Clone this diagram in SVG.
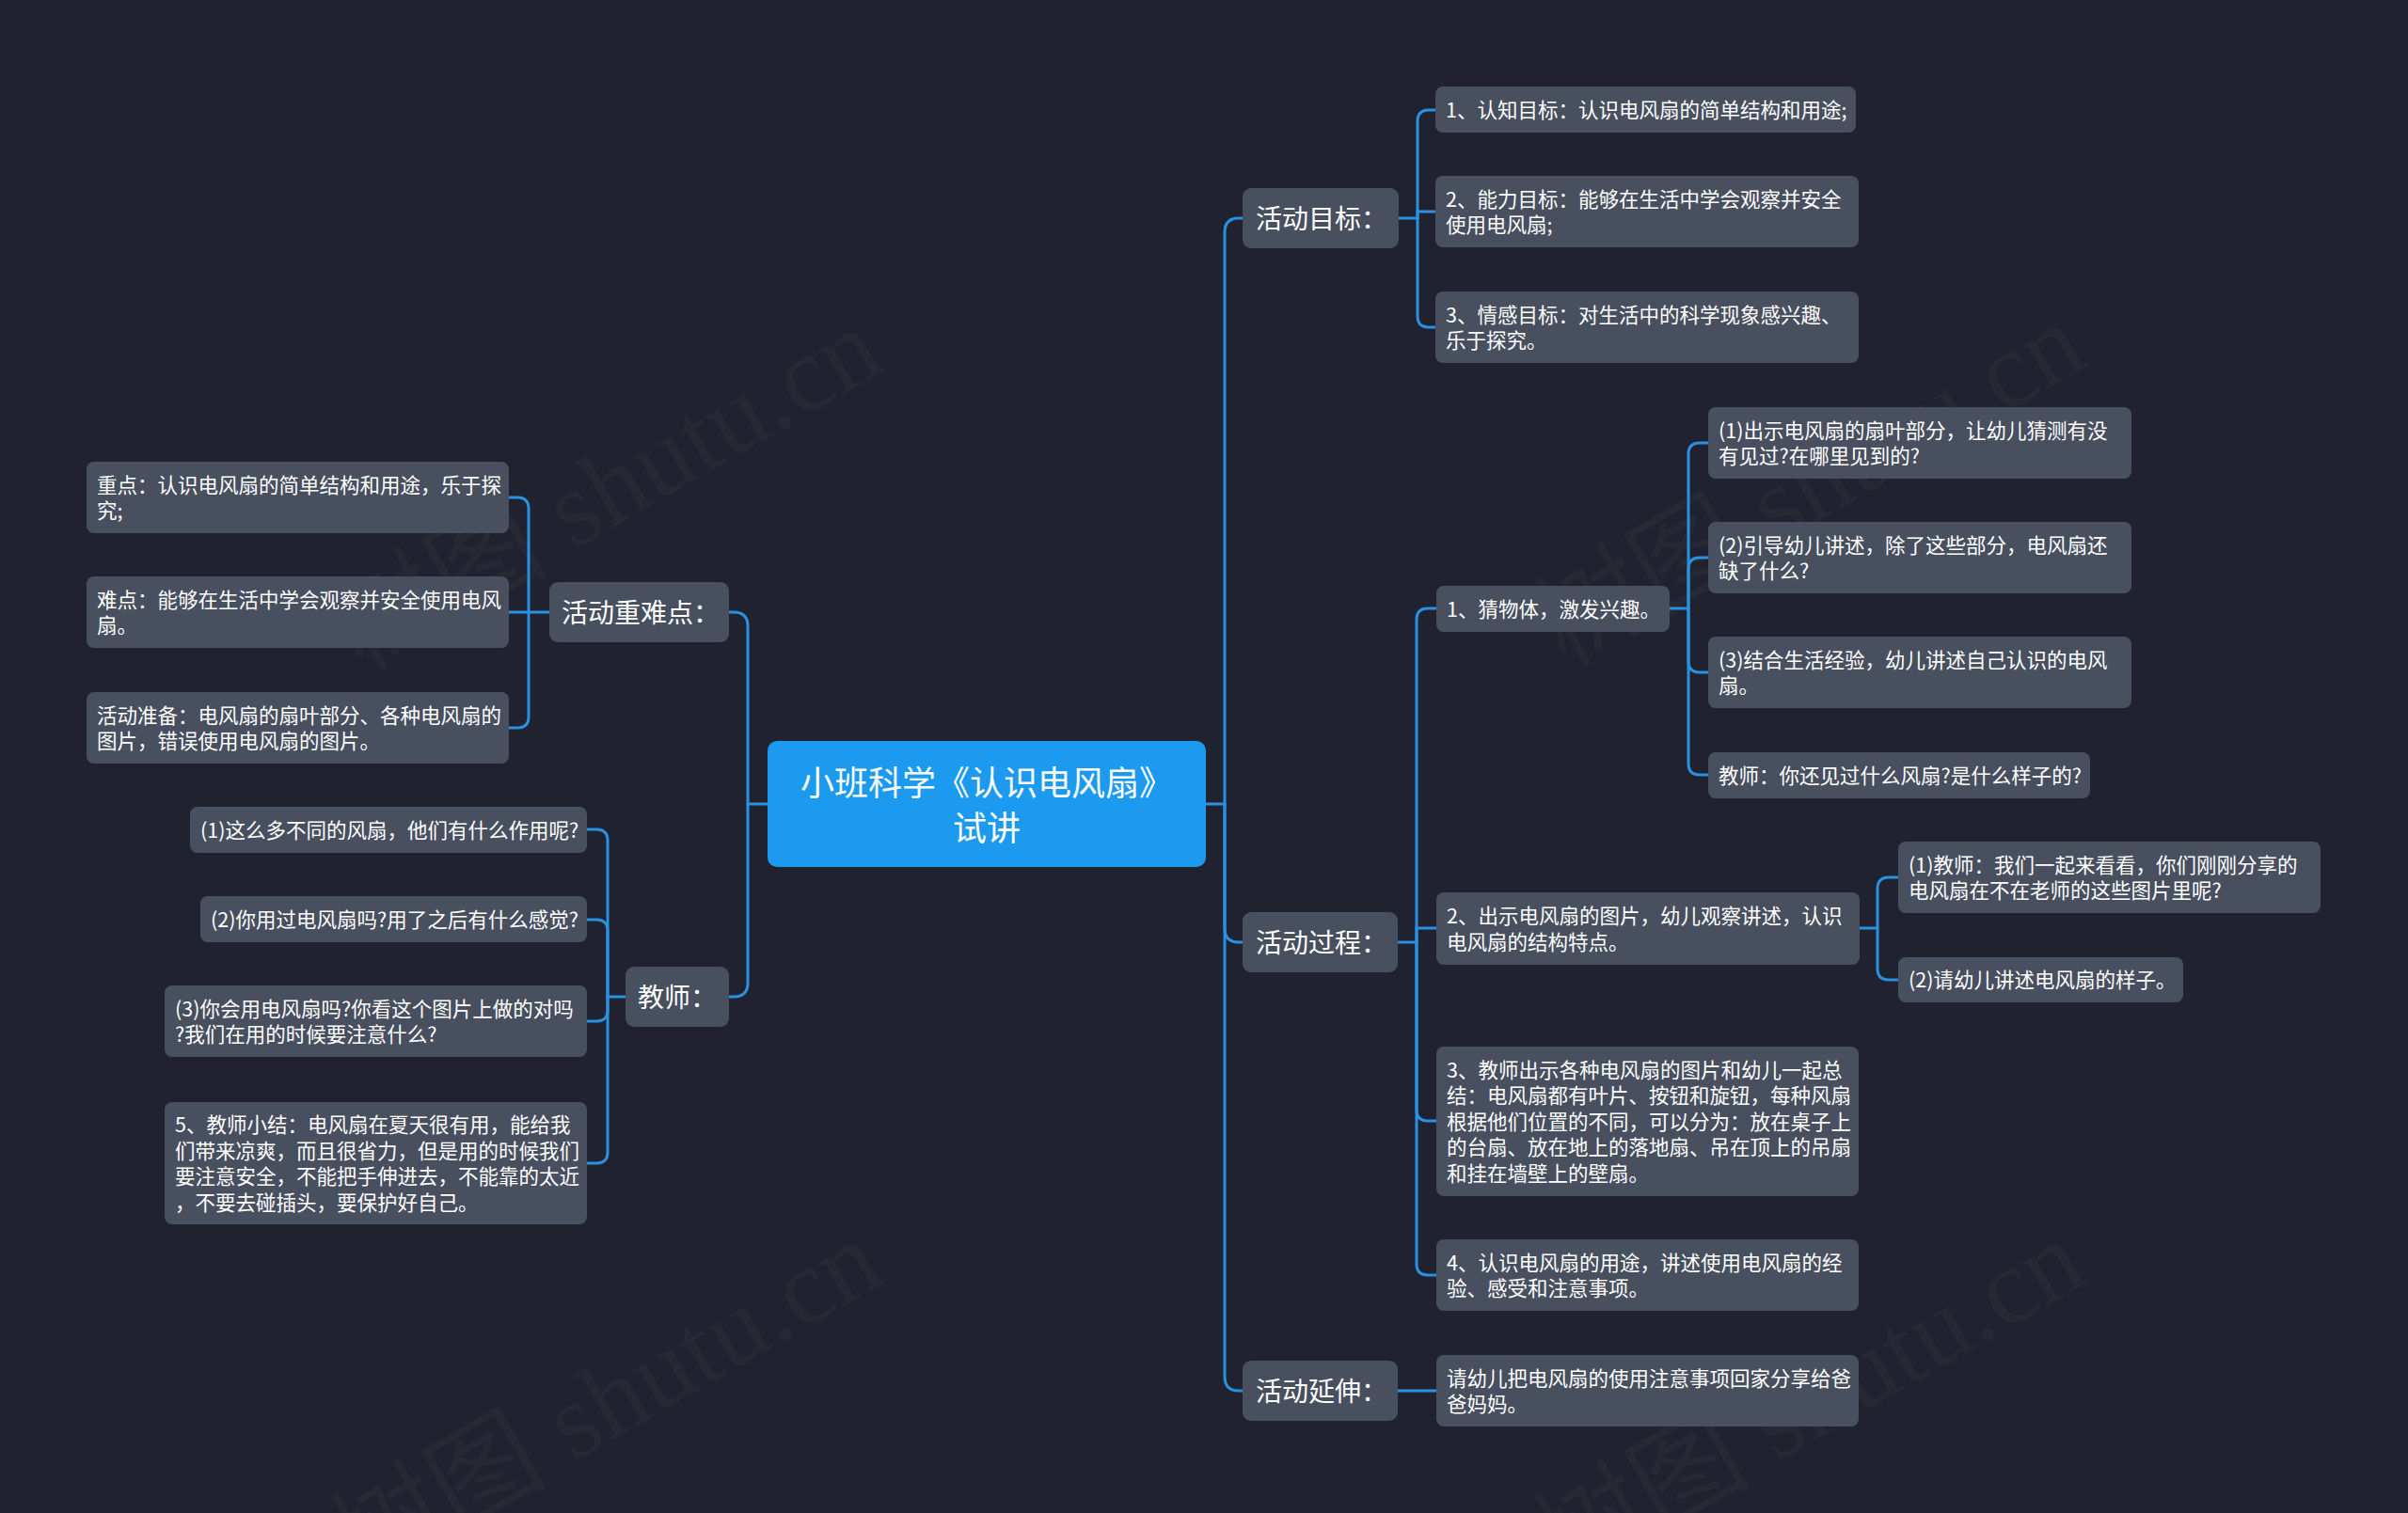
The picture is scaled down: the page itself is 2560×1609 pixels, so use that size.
<svg xmlns="http://www.w3.org/2000/svg" width="2560" height="1609" viewBox="0 0 2560 1609">
<style>
.bg{fill:#20232f}
.wm{font-family:"Liberation Serif","Noto Sans CJK SC",serif;font-size:115px;fill:#ffffff;fill-opacity:0.028}
.n rect{fill:#484f5f}
.n text{font-family:"Noto Sans CJK SC","Noto Sans",sans-serif;font-size:21.5px;fill:#ffffff}
.l1 rect{fill:#484f5f}
.l1 text{font-family:"Noto Sans CJK SC","Noto Sans",sans-serif;font-size:28px;fill:#ffffff}
.root rect{fill:#1c9af0}
.root text{font-family:"Noto Sans CJK SC","Noto Sans",sans-serif;font-size:36px;fill:#ffffff;text-anchor:middle}
.links path{fill:none;stroke:#2a90e2;stroke-width:3;stroke-linecap:round}
</style>
<rect class="bg" x="0" y="0" width="2560" height="1609"/>
<g id="watermarks">
<text class="wm" x="645" y="520" text-anchor="middle" dominant-baseline="central" transform="rotate(-30 645 520)">树图 shutu.cn</text>
<text class="wm" x="1924" y="515" text-anchor="middle" dominant-baseline="central" transform="rotate(-30 1924 515)">树图 shutu.cn</text>
<text class="wm" x="645" y="1490" text-anchor="middle" dominant-baseline="central" transform="rotate(-30 645 1490)">树图 shutu.cn</text>
<text class="wm" x="1924" y="1490" text-anchor="middle" dominant-baseline="central" transform="rotate(-30 1924 1490)">树图 shutu.cn</text>
</g>
<g class="links" id="connectors">
<path d="M1282,855 H1302"/>
<path d="M1302,855 V247 Q1302,232 1317,232 H1321"/>
<path d="M1302,855 V987 Q1302,1002 1317,1002 H1321"/>
<path d="M1302,855 V1464 Q1302,1479 1317,1479 H1321"/>
<path d="M816,855 H795"/>
<path d="M795,855 V666 Q795,651 780,651 H775"/>
<path d="M795,855 V1045 Q795,1060 780,1060 H775"/>
<path d="M1487,232 H1507"/>
<path d="M1507,232 V129 Q1507,117 1519,117 H1526"/>
<path d="M1507,232 V225 H1526"/>
<path d="M1507,232 V336 Q1507,348 1519,348 H1526"/>
<path d="M1486,1002 H1506"/>
<path d="M1506,1002 V659 Q1506,647 1518,647 H1527"/>
<path d="M1506,1002 V987 H1527"/>
<path d="M1506,1002 V1180 Q1506,1192 1518,1192 H1527"/>
<path d="M1506,1002 V1344 Q1506,1356 1518,1356 H1527"/>
<path d="M1775,647 H1795"/>
<path d="M1795,647 V483 Q1795,471 1807,471 H1816"/>
<path d="M1795,647 V605 Q1795,593 1807,593 H1816"/>
<path d="M1795,647 V703 Q1795,715 1807,715 H1816"/>
<path d="M1795,647 V812 Q1795,824 1807,824 H1816"/>
<path d="M1977,987 H1996"/>
<path d="M1996,987 V945 Q1996,933 2008,933 H2018"/>
<path d="M1996,987 V1030 Q1996,1042 2008,1042 H2018"/>
<path d="M1486,1479 H1527"/>
<path d="M584,651 H562"/>
<path d="M562,651 V541 Q562,529 550,529 H541"/>
<path d="M562,651 H541"/>
<path d="M562,651 V762 Q562,774 550,774 H541"/>
<path d="M665,1060 H646"/>
<path d="M646,1060 V894 Q646,882 634,882 H624"/>
<path d="M646,1060 V990 Q646,978 634,978 H624"/>
<path d="M646,1060 V1074 Q646,1086 634,1086 H624"/>
<path d="M646,1060 V1225 Q646,1237 634,1237 H624"/>
</g>
<g id="root" class="root">
<rect x="816" y="788" width="466" height="134" rx="10"/>
<text x="1049" y="845.5">小班科学《认识电风扇》</text>
<text x="1049" y="893.5">试讲</text>
</g>
<g id="n-mubiao" class="l1"><rect x="1321" y="200" width="166" height="64" rx="9"/><text x="1335" y="242.6">活动目标：</text></g>
<g id="n-guocheng" class="l1"><rect x="1321" y="970" width="165" height="64" rx="9"/><text x="1335" y="1012.6">活动过程：</text></g>
<g id="n-yanshen" class="l1"><rect x="1321" y="1447" width="165" height="64" rx="9"/><text x="1335" y="1489.6">活动延伸：</text></g>
<g id="n-zhongnandian" class="l1"><rect x="584" y="619" width="191" height="64" rx="9"/><text x="597" y="661.6">活动重难点：</text></g>
<g id="n-jiaoshi" class="l1"><rect x="665" y="1028" width="110" height="64" rx="9"/><text x="678" y="1070.6">教师：</text></g>

<g id="n-m1" class="n"><rect x="1526" y="92" width="447" height="49" rx="8"/><text x="1537" y="124.7">1、认知目标：认识电风扇的简单结构和用途;</text></g>
<g id="n-m2" class="n"><rect x="1526" y="187" width="450" height="76" rx="8"/><text x="1537" y="219.5">2、能力目标：能够在生活中学会观察并安全</text><text x="1537" y="247">使用电风扇;</text></g>
<g id="n-m3" class="n"><rect x="1526" y="310" width="450" height="76" rx="8"/><text x="1537" y="342.5">3、情感目标：对生活中的科学现象感兴趣、</text><text x="1537" y="370">乐于探究。</text></g>

<g id="n-p1" class="n"><rect x="1527" y="623" width="248" height="49" rx="8"/><text x="1538" y="655.7">1、猜物体，激发兴趣。</text></g>
<g id="n-p2" class="n"><rect x="1527" y="949" width="450" height="77" rx="8"/><text x="1538" y="982">2、出示电风扇的图片，幼儿观察讲述，认识</text><text x="1538" y="1009.5">电风扇的结构特点。</text></g>
<g id="n-p3" class="n"><rect x="1527" y="1113" width="449" height="159" rx="8"/><text x="1538" y="1145.7">3、教师出示各种电风扇的图片和幼儿一起总</text><text x="1538" y="1173.2">结：电风扇都有叶片、按钮和旋钮，每种风扇</text><text x="1538" y="1200.7">根据他们位置的不同，可以分为：放在桌子上</text><text x="1538" y="1228.2">的台扇、放在地上的落地扇、吊在顶上的吊扇</text><text x="1538" y="1255.7">和挂在墙壁上的壁扇。</text></g>
<g id="n-p4" class="n"><rect x="1527" y="1318" width="449" height="76" rx="8"/><text x="1538" y="1350.5">4、认识电风扇的用途，讲述使用电风扇的经</text><text x="1538" y="1378">验、感受和注意事项。</text></g>

<g id="n-g1" class="n"><rect x="1816" y="433" width="450" height="76" rx="8"/><text x="1827" y="465.5">(1)出示电风扇的扇叶部分，让幼儿猜测有没</text><text x="1827" y="493">有见过?在哪里见到的?</text></g>
<g id="n-g2" class="n"><rect x="1816" y="555" width="450" height="76" rx="8"/><text x="1827" y="587.5">(2)引导幼儿讲述，除了这些部分，电风扇还</text><text x="1827" y="615">缺了什么?</text></g>
<g id="n-g3" class="n"><rect x="1816" y="677" width="450" height="76" rx="8"/><text x="1827" y="709.5">(3)结合生活经验，幼儿讲述自己认识的电风</text><text x="1827" y="737">扇。</text></g>
<g id="n-g4" class="n"><rect x="1816" y="800" width="406" height="49" rx="8"/><text x="1827" y="832.7">教师：你还见过什么风扇?是什么样子的?</text></g>

<g id="n-h1" class="n"><rect x="2018" y="895" width="449" height="76" rx="8"/><text x="2029" y="927.5">(1)教师：我们一起来看看，你们刚刚分享的</text><text x="2029" y="955">电风扇在不在老师的这些图片里呢?</text></g>
<g id="n-h2" class="n"><rect x="2018" y="1018" width="303" height="48" rx="8"/><text x="2029" y="1050.2">(2)请幼儿讲述电风扇的样子。</text></g>

<g id="n-e1" class="n"><rect x="1527" y="1441" width="449" height="76" rx="8"/><text x="1538" y="1473.5">请幼儿把电风扇的使用注意事项回家分享给爸</text><text x="1538" y="1501">爸妈妈。</text></g>

<g id="n-k1" class="n"><rect x="92" y="491" width="449" height="76" rx="8"/><text x="103" y="523.5">重点：认识电风扇的简单结构和用途，乐于探</text><text x="103" y="551">究;</text></g>
<g id="n-k2" class="n"><rect x="92" y="613" width="449" height="76" rx="8"/><text x="103" y="645.5">难点：能够在生活中学会观察并安全使用电风</text><text x="103" y="673">扇。</text></g>
<g id="n-k3" class="n"><rect x="92" y="736" width="449" height="76" rx="8"/><text x="103" y="768.5">活动准备：电风扇的扇叶部分、各种电风扇的</text><text x="103" y="796">图片，错误使用电风扇的图片。</text></g>

<g id="n-t1" class="n"><rect x="202" y="858" width="422" height="49" rx="8"/><text x="213" y="890.7">(1)这么多不同的风扇，他们有什么作用呢?</text></g>
<g id="n-t2" class="n"><rect x="213" y="953" width="411" height="49" rx="8"/><text x="224" y="985.7">(2)你用过电风扇吗?用了之后有什么感觉?</text></g>
<g id="n-t3" class="n"><rect x="175" y="1048" width="449" height="76" rx="8"/><text x="186" y="1080.5">(3)你会用电风扇吗?你看这个图片上做的对吗</text><text x="186" y="1108">?我们在用的时候要注意什么?</text></g>
<g id="n-t5" class="n"><rect x="175" y="1172" width="449" height="130" rx="8"/><text x="186" y="1204">5、教师小结：电风扇在夏天很有用，能给我</text><text x="186" y="1231.5">们带来凉爽，而且很省力，但是用的时候我们</text><text x="186" y="1259">要注意安全，不能把手伸进去，不能靠的太近</text><text x="186" y="1286.5">，不要去碰插头，要保护好自己。</text></g>
</svg>
